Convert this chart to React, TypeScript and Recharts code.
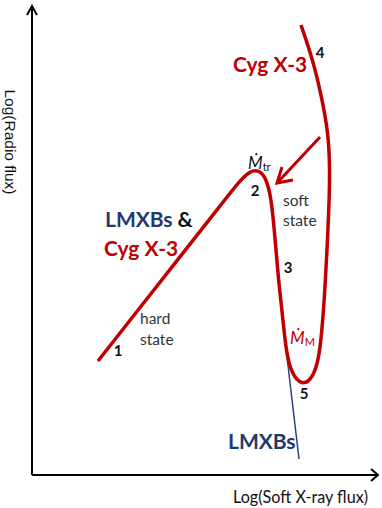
import React from 'react';
import { ComposedChart, Line, XAxis, YAxis, ReferenceDot } from 'recharts';

// Schematic units: x ~ log soft X-ray flux, y ~ log radio flux (arbitrary)
const redTrack = [
  { x: 9.8, y: 14.7 },
  { x: 17.0, y: 23.85 },
  { x: 22.5, y: 30.84 },
  { x: 24.0, y: 32.75 },
  { x: 25.0, y: 33.7 },
  { x: 25.8, y: 33.8 },
  { x: 26.5, y: 33.2 },
  { x: 27.0, y: 31.6 },
  { x: 27.3, y: 29.3 },
  { x: 27.6, y: 25.8 },
  { x: 27.9, y: 22.3 },
  { x: 28.3, y: 18.8 },
  { x: 28.6, y: 15.8 },
  { x: 29.1, y: 13.5 },
  { x: 30.2, y: 12.2 },
  { x: 31.3, y: 13.0 },
  { x: 31.9, y: 15.0 },
  { x: 32.2, y: 17.8 },
  { x: 32.5, y: 21.8 },
  { x: 32.8, y: 27.8 },
  { x: 33.0, y: 32.8 },
  { x: 32.9, y: 36.8 },
  { x: 32.4, y: 40.0 },
  { x: 31.4, y: 44.5 },
  { x: 30.1, y: 48.3 },
];

const lmxbBranch = [
  { x: 28.7, y: 15.1 },
  { x: 29.9, y: 4.9 },
];

const arrowShaft = [
  { x: 32.0, y: 37.1 },
  { x: 27.8, y: 32.6 },
];
const arrowHead = [
  { x: 28.2, y: 34.1 },
  { x: 27.7, y: 32.5 },
  { x: 29.3, y: 32.8 },
];

const yAxisLine = [
  { x: 3.2, y: 3.3 },
  { x: 3.2, y: 50.1 },
];
const yAxisHead = [
  { x: 2.7, y: 49.3 },
  { x: 3.2, y: 50.2 },
  { x: 3.7, y: 49.3 },
];
const xAxisLine = [
  { x: 3.2, y: 3.3 },
  { x: 37.7, y: 3.3 },
];
const xAxisHead = [
  { x: 37.1, y: 3.9 },
  { x: 37.8, y: 3.3 },
  { x: 37.1, y: 2.7 },
];

const RED = '#c00000';
const NAVY = '#1f3a6e';
const FONT = "Lato, 'Open Sans', sans-serif";

type Part = { t: string; c: string };
const bigLabels: { x: number; y: number; parts: Part[] }[] = [
  { x: 23.3, y: 44.5, parts: [{ t: 'Cyg X-3', c: RED }] },
  { x: 10.5, y: 29.0, parts: [{ t: 'LMXBs', c: NAVY }, { t: ' &', c: '#111' }] },
  { x: 10.4, y: 26.1, parts: [{ t: 'Cyg X-3', c: RED }] },
  { x: 22.8, y: 6.8, parts: [{ t: 'LMXBs', c: NAVY }] },
];

const stateLabels = [
  { x: 28.3, y: 30.8, t: 'soft' },
  { x: 28.3, y: 28.8, t: 'state' },
  { x: 14.0, y: 19.0, t: 'hard' },
  { x: 14.0, y: 16.9, t: 'state' },
];

const pointLabels = [
  { x: 11.8, y: 15.8, t: '1' },
  { x: 25.5, y: 31.8, t: '2' },
  { x: 28.8, y: 24.1, t: '3' },
  { x: 32.0, y: 45.6, t: '4' },
  { x: 30.4, y: 11.5, t: '5' },
];

const mdotLabels = [
  { x: 24.8, y: 34.6, sub: 'tr', c: '#111' },
  { x: 29.0, y: 17.1, sub: 'M', c: RED },
];

const lineProps = { dataKey: 'y', type: 'linear' as const, dot: false, activeDot: false, isAnimationActive: false };

export default function App() {
  return (
    <div style={{ position: 'absolute', left: 0, top: 0 }}>
      <ComposedChart width={382} height={508} margin={{ top: 0, right: 0, bottom: 0, left: 0 }}>
        <XAxis type="number" dataKey="x" domain={[0, 38.2]} allowDataOverflow hide />
        <YAxis type="number" dataKey="y" domain={[0, 50.8]} allowDataOverflow hide />
        <Line {...lineProps} data={yAxisLine} stroke="#000" strokeWidth={2} />
        <Line {...lineProps} data={yAxisHead} stroke="#000" strokeWidth={2} />
        <Line {...lineProps} data={xAxisLine} stroke="#000" strokeWidth={2} />
        <Line {...lineProps} data={xAxisHead} stroke="#000" strokeWidth={2} />
        <Line {...lineProps} data={lmxbBranch} stroke="#2b4470" strokeWidth={1.5} />
        <Line {...lineProps} data={redTrack} type="basis" stroke={RED} strokeWidth={3.5} />
        <Line {...lineProps} data={arrowShaft} stroke={RED} strokeWidth={3} />
        <Line {...lineProps} data={arrowHead} stroke={RED} strokeWidth={3} />

        {bigLabels.map((l, i) => (
          <ReferenceDot
            key={'b' + i}
            x={l.x}
            y={l.y}
            r={0}
            shape={(p: any) => (
              <text x={p.cx} y={p.cy} dominantBaseline="central" fontFamily={FONT} fontWeight="bold" fontSize={21}>
                {l.parts.map((pt, j) => (
                  <tspan key={j} fill={pt.c}>{pt.t}</tspan>
                ))}
              </text>
            )}
          />
        ))}
        {stateLabels.map((l, i) => (
          <ReferenceDot
            key={'s' + i}
            x={l.x}
            y={l.y}
            r={0}
            shape={(p: any) => (
              <text x={p.cx} y={p.cy} dominantBaseline="central" fontFamily={FONT} fontSize={15.5} fill="#333">
                {l.t}
              </text>
            )}
          />
        ))}
        {pointLabels.map((l, i) => (
          <ReferenceDot
            key={'n' + i}
            x={l.x}
            y={l.y}
            r={0}
            shape={(p: any) => (
              <text x={p.cx} y={p.cy} dominantBaseline="central" textAnchor="middle" fontFamily={FONT} fontWeight="bold" fontSize={15} fill="#111">
                {l.t}
              </text>
            )}
          />
        ))}
        {mdotLabels.map((l, i) => (
          <ReferenceDot
            key={'m' + i}
            x={l.x}
            y={l.y}
            r={0}
            shape={(p: any) => (
              <text x={p.cx} y={p.cy} dominantBaseline="central" fontFamily={FONT} fontSize={17} fill={l.c}>
                <tspan fontStyle="italic">Ṁ</tspan>
                <tspan fontSize={11} dy={4}>{l.sub}</tspan>
              </text>
            )}
          />
        ))}
        <ReferenceDot
          x={1.0}
          y={36.6}
          r={0}
          shape={(p: any) => (
            <text
              x={p.cx}
              y={p.cy}
              textAnchor="middle"
              dominantBaseline="central"
              transform={`rotate(90, ${p.cx}, ${p.cy})`}
              fontFamily="'Liberation Sans', Arial, sans-serif"
              fontSize={15}
              textLength={105}
              lengthAdjust="spacingAndGlyphs"
              fill="#111"
            >
              Log(Radio flux)
            </text>
          )}
        />
        <ReferenceDot
          x={23.3}
          y={1.1}
          r={0}
          shape={(p: any) => (
            <text
              x={p.cx}
              y={p.cy}
              dominantBaseline="central"
              fontFamily={FONT}
              fontSize={16.5}
              textLength={135}
              lengthAdjust="spacingAndGlyphs"
              fill="#111"
            >
              Log(Soft X-ray flux)
            </text>
          )}
        />
      </ComposedChart>
    </div>
  );
}
